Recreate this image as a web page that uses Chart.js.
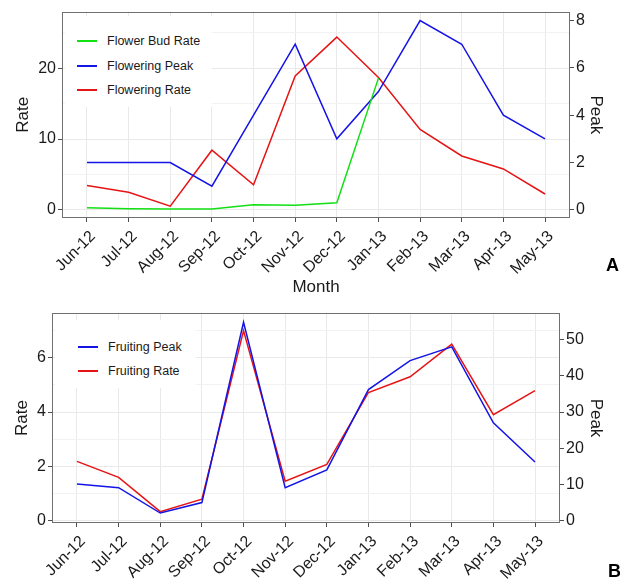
<!DOCTYPE html>
<html>
<head>
<meta charset="utf-8">
<script src="https://cdn.jsdelivr.net/npm/chart.js@4.4.1/dist/chart.umd.min.js"></script>
<style>
  body { margin: 0; background: #fff; font-family: "Liberation Sans", Arial, sans-serif; }
  #wrap { position: relative; width: 620px; height: 579px; overflow: hidden; }
  canvas { position: absolute; left: 0; }
  #chartA { top: 0; }
  #chartB { top: 300px; }
  .legend { position: absolute; background: #fff; font-size: 12.5px; color: #1a1a1a; }
  .legend .key { position: absolute; width: 20px; height: 2px; }
  .legend .lbl { position: absolute; white-space: nowrap; line-height: 14px; }
  .panel { position: absolute; font-weight: bold; font-size: 18px; color: #000; }
</style>
</head>
<body>
<div id="wrap">
  <canvas id="chartA" width="620" height="300"></canvas>
  <canvas id="chartB" width="620" height="279"></canvas>
  <div class="legend" id="legendA" style="left:65px; top:16px; width:147px; height:91px;"></div>
  <div class="legend" id="legendB" style="left:55px; top:320px; width:141px; height:68px;"></div>
  <div class="panel" style="left:606px; top:255px;">A</div>
  <div class="panel" style="left:608px; top:561px;">B</div>
</div>
<script>
// data
const months = ['Jun-12', 'Jul-12', 'Aug-12', 'Sep-12', 'Oct-12', 'Nov-12', 'Dec-12', 'Jan-13', 'Feb-13', 'Mar-13', 'Apr-13', 'May-13'];

const flowerBudRate = [0.28, 0.15, 0.1, 0.1, 0.7, 0.65, 0.98, 18.6, null, null, null, null];
const floweringPeak = [2, 2, 2, 1, 4, 7, 3, 5, 8, 7, 4, 3];
const floweringRate = [3.44, 2.47, 0.52, 8.42, 3.54, 18.9, 24.4, 18.7, 11.35, 7.6, 5.77, 2.23];

const fruitingPeak = [10.1, 9.1, 2.1, 5.0, 54.8, 9.1, 14.0, 36.2, 44.2, 48.0, 27.0, 16.2];
const fruitingRate = [2.18, 1.59, 0.33, 0.79, 7.0, 1.45, 2.07, 4.72, 5.3, 6.5, 3.9, 4.79];

const rateTicksA = [0, 10, 20];
const rateMinorA = [5, 15, 25];
const peakTicksA = [0, 2, 4, 6, 8];
const rateTicksB = [0, 2, 4, 6];
const rateMinorB = [1, 3, 5, 7];
const peakTicksB = [0, 10, 20, 30, 40, 50];

const GREEN = '#12e012';
const BLUE = '#1414e6';
const RED = '#e61414';
const TEXT = '#1a1a1a';
const GRID = '#e9e9e9';
const GRID_MINOR = '#f2f2f2';
const TICK = '#4d4d4d';
const FRAME = '#707070';

Chart.defaults.font.family = '"Liberation Sans", Arial, sans-serif';
Chart.defaults.color = TEXT;

// panel border drawn over the lines, like ggplot's panel.border
const framePlugin = {
  id: 'frame',
  afterDatasetsDraw(chart) {
    const a = chart.chartArea;
    const ctx = chart.ctx;
    ctx.save();
    ctx.strokeStyle = FRAME;
    ctx.lineWidth = 1;
    ctx.strokeRect(Math.round(a.left) + 0.5, Math.round(a.top) + 0.5,
      Math.round(a.right - a.left) - 1, Math.round(a.bottom - a.top) - 1);
    ctx.restore();
  }
};

function xScale(height, title) {
  return {
    type: 'linear', min: -0.6, max: 11.6, bounds: 'data',
    afterBuildTicks: s => { s.ticks = months.map((m, i) => ({ value: i })); },
    afterFit: s => { s.height = height; },
    ticks: {
      autoSkip: false, maxRotation: 45, minRotation: 45, padding: 5, labelOffset: 6,
      color: TEXT, font: { size: 16 },
      callback: v => months[v]
    },
    grid: { color: GRID, lineWidth: 1, tickLength: 4, tickColor: TICK },
    border: { display: false },
    title: {
      display: !!title, text: title || '', color: TEXT,
      font: { size: 17 }, padding: { top: 0, bottom: 2 }
    }
  };
}

function rateScale(min, max, major, minor, width, titlePad) {
  const all = major.concat(minor).sort((a, b) => a - b);
  const isMajor = ctx => ctx.tick && major.includes(ctx.tick.value);
  return {
    type: 'linear', position: 'left', min: min, max: max, bounds: 'data',
    afterBuildTicks: s => { s.ticks = all.map(v => ({ value: v })); },
    afterFit: s => { s.width = width; },
    ticks: {
      color: TEXT, font: { size: 16 }, padding: 2,
      callback: v => major.includes(v) ? String(v) : ''
    },
    grid: {
      color: ctx => isMajor(ctx) ? GRID : GRID_MINOR,
      lineWidth: 1, tickLength: 4,
      tickColor: ctx => isMajor(ctx) ? TICK : 'rgba(0,0,0,0)'
    },
    border: { display: false },
    title: {
      display: true, text: 'Rate', color: TEXT,
      font: { size: 17 }, padding: { top: titlePad, bottom: 0 }
    }
  };
}

function peakScale(min, max, major, width, titlePad) {
  return {
    type: 'linear', position: 'right', min: min, max: max, bounds: 'data',
    afterBuildTicks: s => { s.ticks = major.map(v => ({ value: v })); },
    afterFit: s => { s.width = width; },
    ticks: { color: TEXT, font: { size: 16 }, padding: 2 },
    grid: { drawOnChartArea: false, tickLength: 4, tickColor: TICK },
    border: { display: false },
    title: {
      display: true, text: 'Peak', color: TEXT,
      font: { size: 17 }, padding: { top: titlePad, bottom: 0 }
    }
  };
}

function line(label, values, color, axis) {
  return {
    label: label,
    data: values.map((v, i) => ({ x: i, y: v })),
    borderColor: color,
    backgroundColor: color,
    borderWidth: 1.5,
    pointRadius: 0,
    tension: 0,
    spanGaps: false,
    yAxisID: axis
  };
}

const baseOptions = {
  responsive: false,
  animation: false,
  plugins: { legend: { display: false }, tooltip: { enabled: false } }
};

new Chart(document.getElementById('chartA'), {
  type: 'line',
  data: {
    datasets: [
      line('Flower Bud Rate', flowerBudRate, GREEN, 'y'),
      line('Flowering Peak', floweringPeak, BLUE, 'y2'),
      line('Flowering Rate', floweringRate, RED, 'y')
    ]
  },
  options: Object.assign({}, baseOptions, {
    layout: { padding: { top: 9, left: 0, right: 0, bottom: 0 } },
    scales: {
      x: xScale(82, 'Month'),
      y: rateScale(-1.16, 28.0, rateTicksA, rateMinorA, 62, 13),
      y2: peakScale(-0.347, 8.38, peakTicksA, 50, 14)
    }
  }),
  plugins: [framePlugin]
});

new Chart(document.getElementById('chartB'), {
  type: 'line',
  data: {
    datasets: [
      line('Fruiting Peak', fruitingPeak, BLUE, 'y2'),
      line('Fruiting Rate', fruitingRate, RED, 'y')
    ]
  },
  options: Object.assign({}, baseOptions, {
    layout: { padding: { top: 13, left: 0, right: 0, bottom: 0 } },
    scales: {
      x: xScale(56, ''),
      y: rateScale(-0.09, 7.65, rateTicksB, rateMinorB, 52, 12),
      y2: peakScale(-0.65, 57.35, peakTicksB, 60, 14)
    }
  }),
  plugins: [framePlugin]
});

// legends inside the panels
function buildLegend(id, labels, colors, firstRow, keyLeft, textLeft) {
  const box = document.getElementById(id);
  labels.forEach((text, i) => {
    const y = Math.round(firstRow + i * 24.4);
    const key = document.createElement('div');
    key.className = 'key';
    key.style.left = keyLeft + 'px';
    key.style.top = (y - 1) + 'px';
    key.style.background = colors[i];
    box.appendChild(key);
    const lbl = document.createElement('div');
    lbl.className = 'lbl';
    lbl.style.left = textLeft + 'px';
    lbl.style.top = (y - 7) + 'px';
    lbl.textContent = text;
    box.appendChild(lbl);
  });
}

buildLegend('legendA', ['Flower Bud Rate', 'Flowering Peak', 'Flowering Rate'], [GREEN, BLUE, RED], 25.3, 12, 42);
buildLegend('legendB', ['Fruiting Peak', 'Fruiting Rate'], [BLUE, RED], 26.7, 23, 53);
</script>
</body>
</html>
